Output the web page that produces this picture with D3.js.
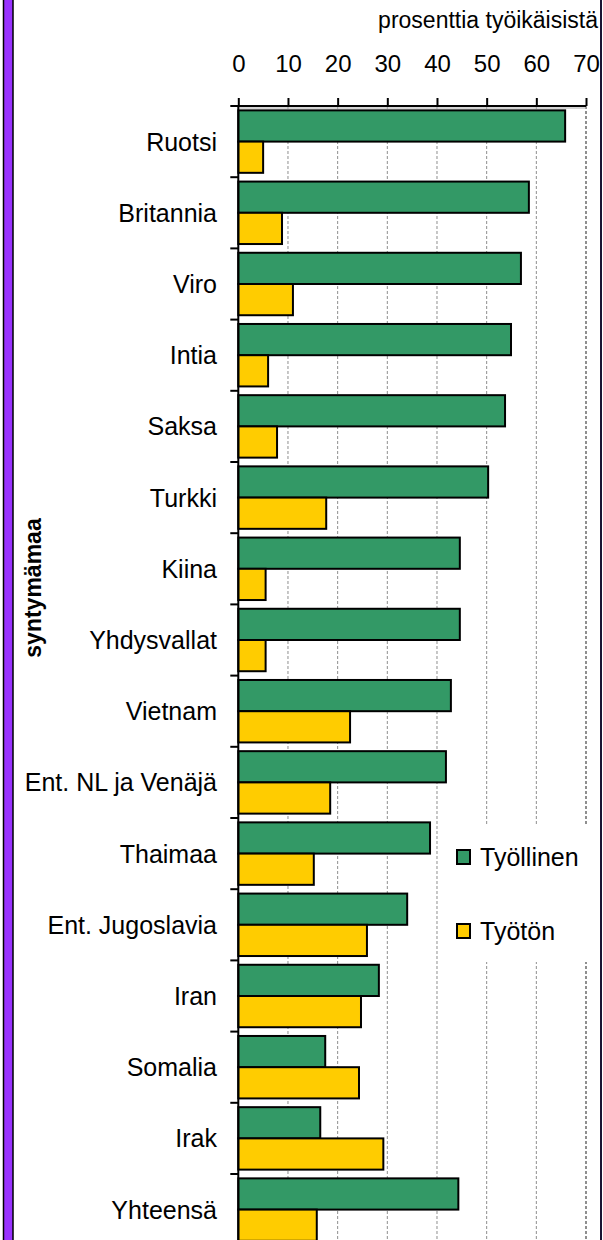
<!DOCTYPE html>
<html>
<head>
<meta charset="utf-8">
<script src="https://cdn.jsdelivr.net/npm/d3@7"></script>
<style>
  body { margin: 0; background: #fff; }
  svg { display: block; font-family: Arial, "Liberation Sans", sans-serif; }
</style>
</head>
<body>
<svg id="chart" width="603" height="1240"></svg>
<script>
var categories = ["Ruotsi", "Britannia", "Viro", "Intia", "Saksa", "Turkki", "Kiina", "Yhdysvallat",
    "Vietnam", "Ent. NL ja Venäjä", "Thaimaa", "Ent. Jugoslavia", "Iran", "Somalia", "Irak", "Yhteensä"];
var employed = [65.8, 58.5, 56.9, 54.9, 53.7, 50.3, 44.6, 44.6, 42.8, 41.8, 38.6, 34.0, 28.3, 17.5, 16.5, 44.3];
var unemployed = [5.0, 8.8, 11.0, 6.0, 7.8, 17.7, 5.5, 5.5, 22.5, 18.5, 15.2, 25.9, 24.7, 24.3, 29.2, 15.8];
var seriesNames = ["Työllinen", "Työtön"];
var seriesColors = ["#339966", "#FFCC00"];
var xTicks = [0, 10, 20, 30, 40, 50, 60, 70];

var svg = d3.select("#chart");

var x = d3.scaleLinear().domain([0, 70]).range([238.3, 586]);
var y = d3.scaleBand().domain(categories).range([106, 106 + 16 * 71.2]);
var sub = d3.scaleBand().domain(seriesNames).range([0, y.bandwidth()]).paddingOuter(0.14);
var color = d3.scaleOrdinal().domain(seriesNames).range(seriesColors);

var rows = categories.map(function(c, i) {
    return { cat: c, values: [
        { key: seriesNames[0], value: employed[i] },
        { key: seriesNames[1], value: unemployed[i] }
    ] };
});

var yTop = y.range()[0], yBottom = y.range()[1];

// gridlines
svg.append("g").selectAll("line").data(xTicks.filter(function(t) { return t > 0; }))
    .enter().append("line")
    .attr("x1", function(d) { return x(d); }).attr("x2", function(d) { return x(d); })
    .attr("y1", yTop).attr("y2", yBottom)
    .attr("stroke", "#8f8f8f")
    .attr("stroke-width", function(d) { return d === 70 ? 2 : 1; })
    .attr("stroke-dasharray", "3,2");

svg.append("line")
    .attr("x1", x(0)).attr("x2", x(70)).attr("y1", yTop + 2).attr("y2", yTop + 2)
    .attr("stroke", "#aaa").attr("stroke-width", 1);

// bars
var groups = svg.append("g").selectAll("g").data(rows).enter().append("g")
    .attr("transform", function(d) { return "translate(0," + y(d.cat) + ")"; });

groups.selectAll("rect").data(function(d) { return d.values; }).enter().append("rect")
    .attr("x", x(0))
    .attr("y", function(d) { return sub(d.key); })
    .attr("width", function(d) { return x(d.value) - x(0); })
    .attr("height", sub.bandwidth())
    .attr("fill", function(d) { return color(d.key); })
    .attr("stroke", "#000")
    .attr("stroke-width", 2);

// x axis on top
var xAxis = svg.append("g")
    .attr("transform", "translate(0," + yTop + ")")
    .call(d3.axisTop(x).tickValues(xTicks).tickSizeInner(8).tickSizeOuter(0).tickPadding(26));
xAxis.select(".domain").remove();
xAxis.selectAll(".tick line").attr("stroke", "#000").attr("stroke-width", 2);
xAxis.selectAll(".tick text").attr("font-size", 24).attr("fill", "#000")
    .attr("font-family", "Arial, 'Liberation Sans', sans-serif");
svg.append("line")
    .attr("x1", x(0) - 8).attr("x2", x(70)).attr("y1", yTop).attr("y2", yTop)
    .attr("stroke", "#000").attr("stroke-width", 2);

// category axis
svg.append("line")
    .attr("x1", x(0)).attr("x2", x(0)).attr("y1", yTop).attr("y2", yBottom)
    .attr("stroke", "#000").attr("stroke-width", 2);
svg.append("g").selectAll("line").data(categories.slice(1).concat(["end"]))
    .enter().append("line")
    .attr("x1", x(0) - 8).attr("x2", x(0))
    .attr("y1", function(d) { return d === "end" ? yBottom : y(d); })
    .attr("y2", function(d) { return d === "end" ? yBottom : y(d); })
    .attr("stroke", "#000").attr("stroke-width", 2);

svg.append("g").selectAll("text").data(categories).enter().append("text")
    .attr("x", 217)
    .attr("y", function(d) { return y(d) + y.bandwidth() / 2; })
    .attr("dy", "0.36em")
    .attr("text-anchor", "end")
    .attr("font-size", 25)
    .text(function(d) { return d; });

// axis titles
svg.append("text")
    .attr("x", 598).attr("y", 28)
    .attr("text-anchor", "end")
    .attr("font-size", 23)
    .text("prosenttia työikäisistä");

svg.append("text")
    .attr("transform", "translate(41,588) rotate(-90)")
    .attr("text-anchor", "middle")
    .attr("font-size", 23)
    .attr("font-weight", "bold")
    .text("syntymämaa");

// legend
var legend = svg.append("g");
legend.append("rect")
    .attr("x", 447).attr("y", 826).attr("width", 152).attr("height", 136)
    .attr("fill", "#fff");
var items = legend.selectAll("g").data(seriesNames).enter().append("g")
    .attr("transform", function(d, i) { return "translate(457," + (850 + i * 74) + ")"; });
items.append("rect")
    .attr("width", 13).attr("height", 14)
    .attr("fill", function(d) { return color(d); })
    .attr("stroke", "#000").attr("stroke-width", 2);
items.append("text")
    .attr("x", 23).attr("y", 7).attr("dy", "0.36em")
    .attr("font-size", 25)
    .text(function(d) { return d; });

// frame
svg.append("rect")
    .attr("x", 3.5).attr("y", -2).attr("width", 9.5).attr("height", 1244)
    .attr("fill", "#9933FF").attr("stroke", "#000").attr("stroke-width", 1.5);
svg.append("line")
    .attr("x1", 601).attr("x2", 601).attr("y1", 0).attr("y2", 1240)
    .attr("stroke", "#1a1433").attr("stroke-width", 2);
</script>
</body>
</html>
